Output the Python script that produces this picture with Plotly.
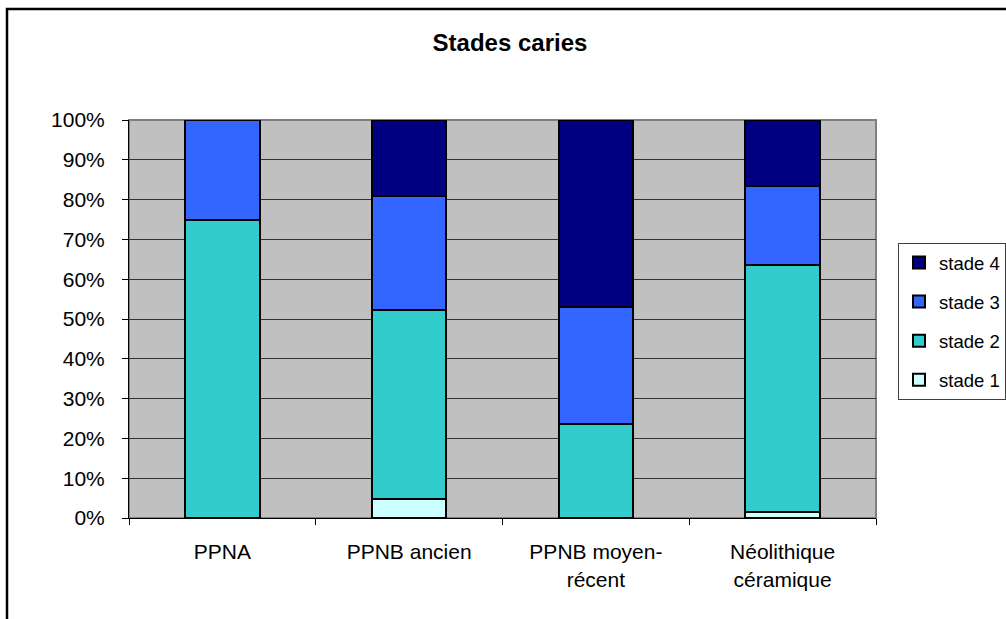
import plotly.graph_objects as go

categories = ["PPNA", "PPNB ancien", "PPNB moyen-<br>récent", "Néolithique<br>céramique"]
series_names = ["stade 1", "stade 2", "stade 3", "stade 4"]
stade1 = [0.0, 0.0476, 0.0, 0.015]
stade2 = [0.75, 0.4762, 0.2353, 0.621]
stade3 = [0.25, 0.2857, 0.2941, 0.198]
stade4 = [0.0, 0.1905, 0.4706, 0.166]
colors = ["#CCFFFF", "#33CCCC", "#3366FF", "#000080"]

FONT = "Liberation Sans, Arial, sans-serif"

fig = go.Figure()
for i, (name, vals) in enumerate(zip(series_names, [stade1, stade2, stade3, stade4])):
    fig.add_trace(go.Bar(
        x=categories, y=vals, name=name, legendgroup=name, legendrank=10 - i,
        marker=dict(color=colors[i], line=dict(color="black", width=2)),
    ))

W, H = 1006, 619
L, R, T, B = 129, 876, 120, 518
pw, ph = R - L, B - T

def px(x):
    return (x - L) / pw

def py(y):
    return (B - y) / ph

fig.update_layout(
    width=W, height=H,
    barmode="stack", bargap=0.6,
    margin=dict(l=L, r=W - R, t=T, b=H - B, autoexpand=False),
    paper_bgcolor="white",
    plot_bgcolor="rgba(0,0,0,0)",
    font=dict(family=FONT, size=21, color="black"),
    title=dict(text="<b>Stades caries</b>", x=510 / W, xref="container", xanchor="center",
               y=1 - 43 / H, yref="container", yanchor="middle",
               font=dict(family=FONT, size=24, color="black")),
    showlegend=True,
    legend=dict(
        traceorder="grouped", tracegroupgap=12,
        x=px(898), xanchor="left", y=py(243), yanchor="top",
        bordercolor="#404040", borderwidth=1, bgcolor="white",
        font=dict(family=FONT, size=18.5, color="black"),
        itemwidth=30,
    ),
    xaxis=dict(
        type="category", showgrid=False, ticks="outside", tickson="boundaries",
        ticklen=6, tickcolor="black", linecolor="black", linewidth=1, showline=True,
        ticklabelstandoff=15, tickfont=dict(family=FONT, size=21, color="black"),
    ),
    yaxis=dict(
        range=[0, 1], dtick=0.1, tickformat=".0%", showgrid=True,
        gridcolor="#333333", gridwidth=1, zeroline=False,
        ticks="outside", ticklen=6, tickcolor="black", showline=True,
        linecolor="black", linewidth=1, ticklabelstandoff=13,
        tickfont=dict(family=FONT, size=21, color="black"),
    ),
    shapes=[
        dict(type="rect", xref="paper", yref="paper", x0=0, x1=1, y0=0, y1=1,
             fillcolor="#C0C0C0", line=dict(color="#808080", width=2), layer="below"),
        dict(type="rect", xref="paper", yref="paper", x0=px(7), x1=px(1030), y0=py(640), y1=py(9),
             fillcolor="rgba(0,0,0,0)", line=dict(color="black", width=2.5), layer="below"),
    ],
)

fig.write_html("out.html", config={"displayModeBar": False},
               post_script="document.body.style.margin='0';document.body.style.overflow='hidden';")
